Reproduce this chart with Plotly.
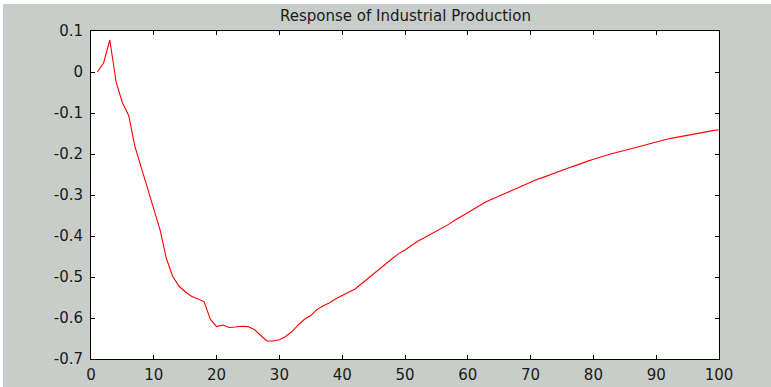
import plotly.graph_objects as go

horizon = list(range(1, 101))
response = [
    0.000, 0.022, 0.078, -0.025, -0.075, -0.106, -0.182, -0.232, -0.285, -0.335,
    -0.385, -0.455, -0.498, -0.522, -0.536, -0.547, -0.553, -0.560, -0.603, -0.621,
    -0.617, -0.623, -0.622, -0.620, -0.621, -0.628, -0.642, -0.656, -0.656, -0.653,
    -0.645, -0.633, -0.617, -0.603, -0.594, -0.579, -0.570, -0.563, -0.553, -0.544,
    -0.537, -0.530, -0.518, -0.506, -0.493, -0.480, -0.467, -0.454, -0.443, -0.434,
    -0.423, -0.413, -0.405, -0.397, -0.389, -0.380, -0.371, -0.361, -0.352, -0.343,
    -0.333, -0.323, -0.316, -0.309, -0.303, -0.296, -0.289, -0.282, -0.275, -0.268,
    -0.262, -0.257, -0.251, -0.245, -0.240, -0.234, -0.229, -0.223, -0.218, -0.213,
    -0.208, -0.204, -0.199, -0.195, -0.191, -0.187, -0.182, -0.178, -0.174, -0.170,
    -0.166, -0.163, -0.160, -0.157, -0.155, -0.152, -0.149, -0.146, -0.143, -0.141,
]
x_ticks = [0, 10, 20, 30, 40, 50, 60, 70, 80, 90, 100]
y_ticks = [-0.7, -0.6, -0.5, -0.4, -0.3, -0.2, -0.1, 0, 0.1]
y_labels = ["-0.7", "-0.6", "-0.5", "-0.4", "-0.3", "-0.2", "-0.1", "0", "0.1"]
title_text = "Response of Industrial Production"

W, H = 771, 387
L, R, T, B = 91, 52, 31, 28
pw, ph = W - L - R, H - T - B

fig = go.Figure()
fig.add_trace(go.Scatter(x=horizon, y=response, mode="lines",
                         line=dict(color="#ff0000", width=1.1), showlegend=False))

FAM = "DejaVu Sans, Verdana, sans-serif"
font = dict(family=FAM, size=15, color="#1a1a1a")
axis_common = dict(showline=True, linecolor="#000000", linewidth=1, mirror="ticks",
                   ticks="inside", ticklen=4, tickcolor="#000000", tickwidth=1,
                   showgrid=False, zeroline=False, tickfont=font, automargin=False)

fig.update_layout(
    width=W, height=H,
    margin=dict(l=L, r=R, t=T, b=B, pad=0, autoexpand=False),
    paper_bgcolor="#c9cdc9", plot_bgcolor="#ffffff",
    xaxis=dict(range=[0, 100], tickvals=x_ticks, ticklabelstandoff=2, **axis_common),
    yaxis=dict(range=[-0.7, 0.1], tickvals=y_ticks, ticktext=y_labels,
               ticklabelstandoff=4, **axis_common),
    annotations=[dict(text=title_text, xref="paper", yref="paper", x=0.5,
                      y=1 + 15 / ph, xanchor="center", yanchor="middle",
                      showarrow=False,
                      font=dict(family=FAM, size=15, color="#1a1a1a"))],
    shapes=[
        # thin white strips at the left and top of the gray frame
        dict(type="rect", xref="paper", yref="paper", x0=-L / pw, x1=(3 - L) / pw,
             y0=-B / ph, y1=1 + T / ph, fillcolor="#ffffff", line=dict(width=0), layer="above"),
        dict(type="rect", xref="paper", yref="paper", x0=-L / pw, x1=1 + R / pw,
             y0=1 + (T - 4) / ph, y1=1 + T / ph, fillcolor="#ffffff", line=dict(width=0), layer="above"),
    ],
)

fig.write_html("out.html")
